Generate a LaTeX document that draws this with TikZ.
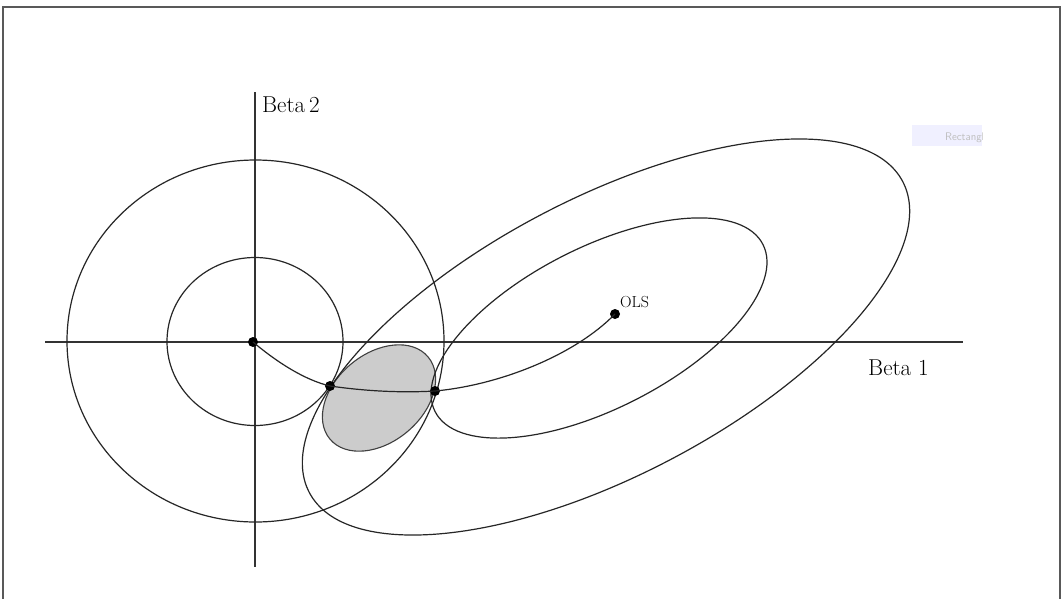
\documentclass[tikz,border=0pt]{standalone}
\usetikzlibrary{calc}
\begin{document}
\begin{tikzpicture}[x=1pt,y=-1pt,
  curve/.style={line width=1.2pt, black!85},
  axisline/.style={line width=1.3pt, black!80},
  dotnode/.style={circle, fill=black, inner sep=0pt, minimum size=10pt},
  lbl/.style={inner sep=0pt, anchor=base west, font=\fontsize{23}{26}\selectfont},
]
\useasboundingbox (0,0) rectangle (1063,598);
\fill[white] (0,0) rectangle (1063,598);
% frame
\draw[line width=1.5pt, black!65] (3,600) -- (3,7) -- (1060,7) -- (1060,600);
% faint artifact
\fill[blue!6] (912,125) rectangle (982,146);
\begin{scope}
\clip (912,125) rectangle (982,146);
\node[inner sep=0pt, anchor=base west, text=black!25, font=\fontsize{11}{13}\selectfont\sffamily] (rect) at (945,140) {Rectangle};
\end{scope}
% gray region
\fill[gray!40, draw=black!75, line width=1.1pt, rotate around={40:(379,398)}] (379,398) ellipse [x radius=64, y radius=44];
% axes
\draw[axisline] (45,342) coordinate (xl) -- (963,342) coordinate (xr);
\draw[axisline] (255,92) coordinate (yt) -- (255,567) coordinate (yb);
% circles
\draw[curve] (255.5,341) ellipse [x radius=188.5, y radius=181];
\draw[curve] (255,341.5) ellipse [x radius=88, y radius=84];
% large ellipse
\draw[curve, rotate around={27.65:(606,337)}] (606,337) ellipse [x radius=335, y radius=138.5];
% medium ellipse
\draw[curve, rotate around={27:(599,328)}] (599,328) ellipse [x radius=184, y radius=80.5];
% dots
\node[dotnode] (O) at (253,342) {};
\node[dotnode] (L) at (330,386) {};
\node[dotnode] (R) at (435,391) {};
\node[dotnode] (OLS) at (615,314) {};
% path
\draw[curve] (O.center) .. controls (278,363) and (305,380) .. (L.center);
\draw[curve] (L.center) .. controls (365,391) and (400,393) .. (R.center);
\draw[curve] (R.center) .. controls (500,385) and (575,355) .. (OLS.center);
% labels
\node[lbl] (b2) at (262,112) {Beta\,2};
\node[lbl] (b1) at (868,375) {Beta 1};
\node[lbl, font=\fontsize{16}{18}\selectfont] (olsl) at (620,307) {OLS};
\end{tikzpicture}
\end{document}
